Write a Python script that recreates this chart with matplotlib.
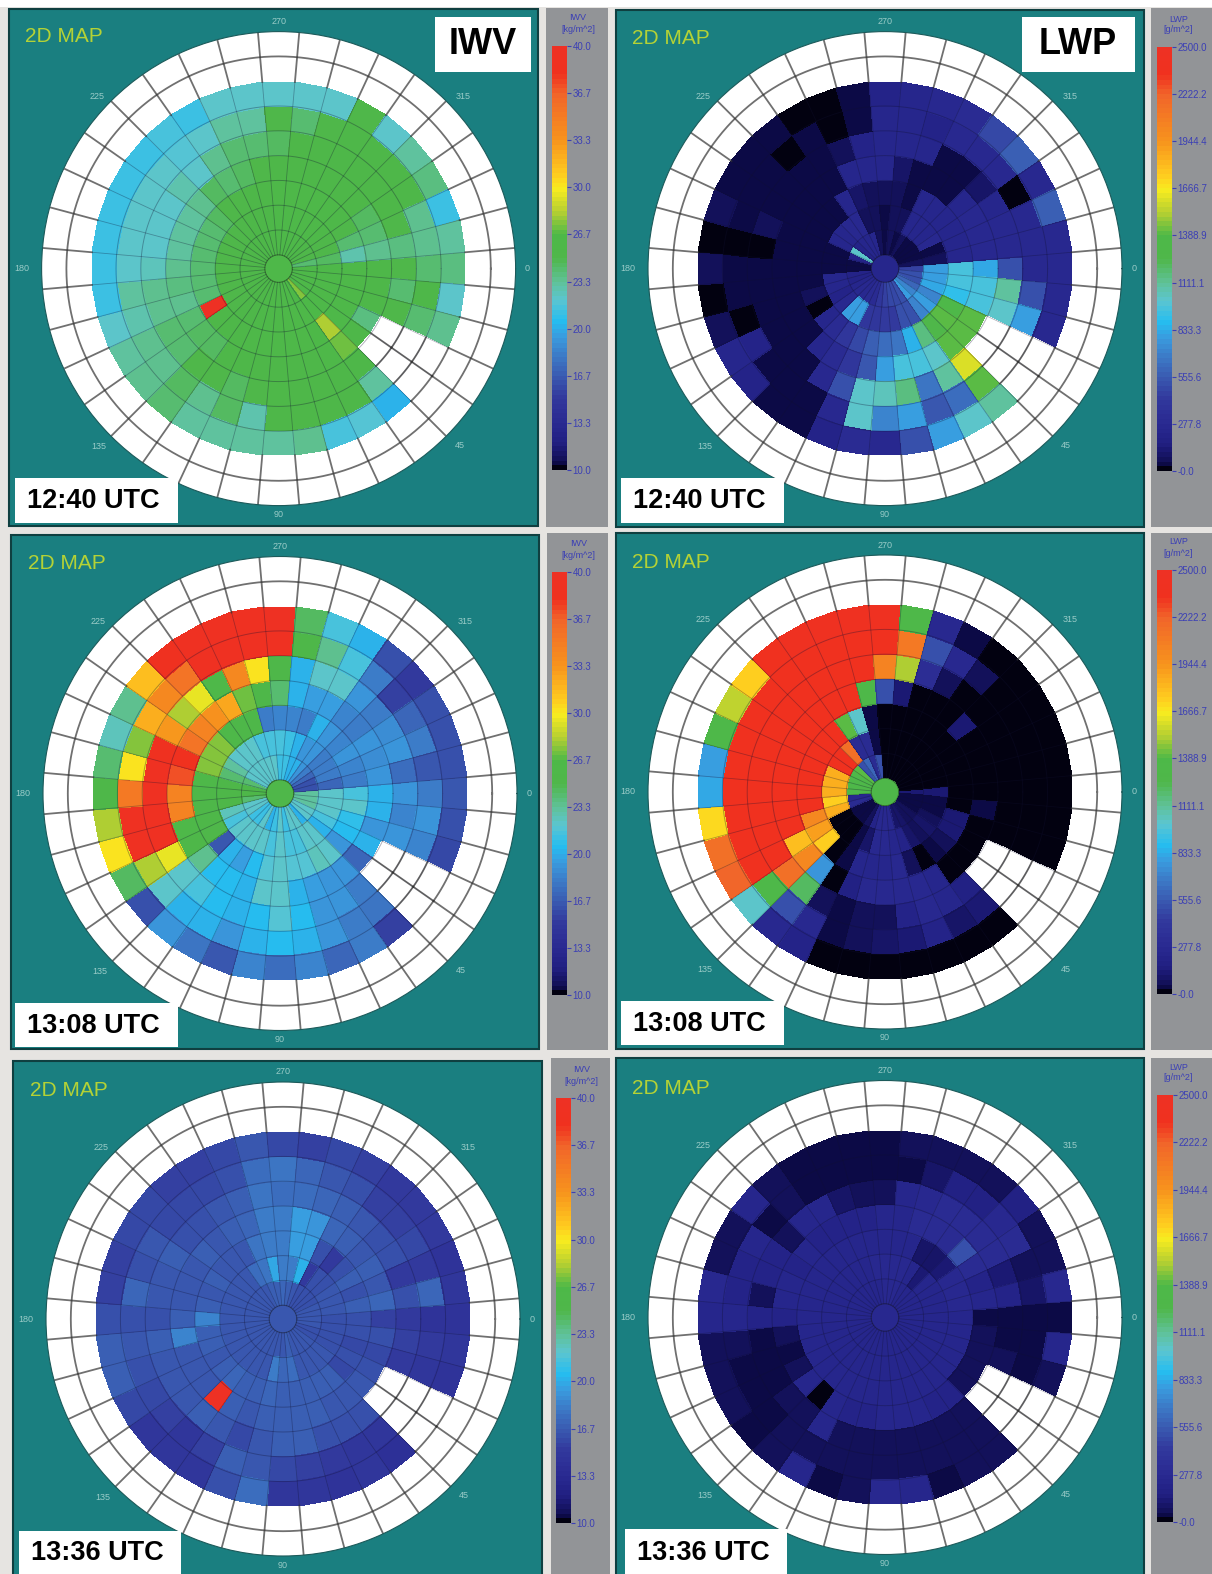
import numpy as np
import matplotlib
matplotlib.use("Agg")
import matplotlib.pyplot as plt
from matplotlib.colors import LinearSegmentedColormap
from matplotlib.patches import Rectangle

plt.rcParams['font.family'] = ['Liberation Sans', 'DejaVu Sans']

na = np.nan

iwv_ticks = ['10.0', '13.3', '16.7', '20.0', '23.3', '26.7', '30.0', '33.3', '36.7', '40.0']
lwp_ticks = ['-0.0', '277.8', '555.6', '833.3', '1111.1', '1388.9', '1666.7', '1944.4', '2222.2', '2500.0']
angle_ticks = [0, 45, 90, 135, 180, 225, 270, 315]
# where the azimuth labels sit, pixels from the centre of the circle
angle_label_dx = [249, 181, 0, -180, -257, -182, 0, 185]
angle_label_dy = [0, 177, 246, 178, 0, -172, -247, -172]

# rings go from the centre outwards, each one starts at 0 deg and runs clockwise in 10 deg steps
iwv_1240_center = 25.7
iwv_1240 = [
    [25.7, 25.7, 25.7, 26, 26, 27.5, 26.5, 26, 25.7, 25.7, 25.7, 25.7,
     25.5, 25.5, 25.5, 25.5, 25.5, 25.3, 25.3, 25.3, 25.3, 25.5, 25.5, 25.5,
     25.5, 25.5, 25.5, 25.7, 25.7, 25.7, 25.7, 25.7, 25.5, 25.3, 25, 24],
    [25.7, 25.7, 25.7, 25.7, 26, 26.5, 26, 25.7, 25.7, 25.7, 25.7, 25.7,
     25.5, 25.5, 25.3, 25.3, 25, 25, 25, 25, 25, 25, 25.3, 25.3,
     25.5, 25.5, 25.5, 25.7, 25.7, 25.7, 25.7, 26, 25.7, 25.3, 25, 24.5],
    [25.8, 25.7, 25.7, 25.7, 26, 28, 26.5, 26, 25.7, 25.7, 25.7, 25.7,
     25.5, 25.5, 25.5, 40, 24, 24, 24.3, 24.3, 24, 24, 24.5, 25,
     25.3, 25.5, 25.5, 25.7, 25.7, 25.7, 26, 26.2, 25.8, 25, 24, 22.8],
    [25.5, 25.5, 25.5, 23.8, 25.5, 27, 26, 25.5, 25.5, 25.5, 25.5, 25.5,
     25.5, 24.5, 24.5, 24.3, 23.5, 23.8, 23.5, 23.3, 23.3, 23.3, 23.5, 24.5,
     24.3, 24.5, 25, 25.5, 25.5, 25.5, 25.5, 25.5, 25.5, 24.5, 24, 23.5],
    [25.3, 24, 25, na, na, 25.5, 25.5, 25.5, 25.5, 26, 25, 24.5,
     25, 25, 24, 24, 23.5, 23.5, 22.5, 22.3, 22.3, 22.3, 22.8, 22,
     23.5, 24, 24, 24.5, 25.5, 25.5, 25.5, 25.5, 25.5, 25.5, 25.3, 23.8],
    [24, 25.5, 24, na, na, 23, 25.5, 25.5, 25.5, 25.5, 22.7, 24.5,
     23.5, 24.5, 23.5, 23.5, 22.8, 23.3, 22, 22, 22, 22, 22, 21.8,
     22, 23, 23, 25.3, 24, 25, 25.5, 25.5, 25.5, 25.5, 23.5, 23.5],
    [23.8, 22, 23.5, na, na, 20.3, 21.8, 21.5, 23.5, 23.2, 23, 23,
     23.2, 24, 23.5, 23.3, 22, 21, 21, 21, 21.3, 21, 21, 21.5,
     21.2, 22, 22, 22, 22, 22, 25, 22, 23, 23.8, 21, 23.3],
]

lwp_1240_center = 240
lwp_1240 = [
    [450, 500, 500, 600, 700, 800, 500, 480, 480, 450, 400, 280,
     280, 260, 250, 230, 220, 210, 50, 50, 220, 1000, 220, 230,
     230, 230, 60, 40, 60, 50, 70, 50, 50, 40, 50, 70],
    [800, 800, 830, 700, 800, 700, 500, 500, 420, 420, 400, 400,
     800, 800, 250, 220, 230, 230, 40, 40, 40, 230, 230, 250,
     250, 60, 60, 50, 60, 70, 230, 230, 230, 250, 50, 60],
    [950, 950, 900, 1350, 1400, 1250, 1150, 850, 650, 620, 560, 480,
     400, 300, 240, 0, 60, 30, 40, 30, 30, 50, 50, 50,
     230, 100, 60, 60, 70, 40, 230, 230, 240, 240, 240, 240],
    [820, 950, 950, 1400, 1400, 1400, 1000, 950, 950, 800, 550, 400,
     280, 230, 50, 40, 30, 30, 30, 30, 30, 30, 30, 40,
     40, 230, 230, 230, 100, 40, 40, 40, 230, 250, 250, 250],
    [500, 1100, 1000, na, na, 1600, 1100, 650, 1150, 1050, 1000, 500,
     250, 40, 30, 30, 30, 30, 40, 10, 60, 30, 40, 50,
     50, 60, 220, 240, 240, 230, 40, 40, 100, 230, 250, 250],
    [270, 520, 800, na, na, 1400, 620, 550, 800, 720, 1000, 270,
     40, 30, 50, 200, 20, 30, 50, 0, 50, 50, 50, 5,
     30, 5, 40, 230, 240, 220, 260, 260, 260, 10, 260, 250],
    [250, 250, 270, na, na, 1100, 1000, 800, 500, 260, 280, 200,
     50, 50, 220, 240, 60, 10, 70, 0, 70, 50, 50, 50,
     10, 0, 40, 220, 240, 260, 280, 480, 570, 250, 560, 250],
]

iwv_1308_center = 25.3
iwv_1308 = [
    [23, 23, 23, 22, 22, 20, 22, 22, 21, 22, 21, 20,
     22, 21, 21, 22, 22, 24, 25.5, 25.5, 24, 22, 22, 22,
     22, 22, 22, 21, 21, 20, 20, 19, 18, 17, 16, 16],
    [22, 22, 22, 21.5, 20, 22, 22, 21.5, 21.5, 22, 21.5, 22,
     22, 22, 22, 21.5, 22.5, 25.5, 25.5, 25.5, 24, 23.3, 22, 22,
     22, 21.5, 21.5, 21.5, 21, 20, 19, 19, 18, 18, 18, 17],
    [21.5, 22, 20.8, 20.5, 19, 22, 22.5, 21.8, 21.8, 22, 21.8, 20.5,
     19.5, 20, 16.5, 25, 25.5, 25.5, 25.5, 26, 27.5, 27.5, 27.5, 26,
     25.5, 25.5, 18, 18.5, 18.5, 18, 20, 19, 18.5, 19, 18.5, 18],
    [20, 20, 19, 20, 17.3, 19, 19, 19.5, 20, 22, 22, 20,
     20.5, 20.5, 23.5, 25.5, 26, 34.5, 34.5, 37, 38, 35.5, 34.5, 33.5,
     32.5, 27, 25.5, 24, 20, 19.5, 19.5, 18.5, 18, 19, 18.8, 19],
    [19, 18.5, 19.3, na, na, 18, 19, 19, 20.5, 21.8, 20.5, 20,
     20.5, 21.5, 22, 29.5, 39, 39, 39, 39, 38.5, 33, 28, 29.5,
     26, 34, 30, 25.5, 20, 22, 22, 19, 18, 18.8, 19, 17.5],
    [18, 19, 18.5, na, na, 17.8, 18, 19, 20.3, 20.5, 20, 19,
     20, 20, 22, 28, 39, 39, 35, 30, 27.5, 32, 34, 35.5,
     39, 39, 39, 39, 25.5, 23.5, 21.5, 18, 15.5, 17, 18, 16.5],
    [16.5, 16, 15.7, na, na, 15.5, 18, 17, 18.5, 17.5, 18.5, 16.5,
     17.8, 19, 16.3, 24.5, 30, 28, 25.5, 24, 22.5, 23.5, 31.5, 38.5,
     39, 39, 39, 39.5, 24.5, 21.5, 20, 16, 15, 16, 16.3, 16],
]

lwp_1308_center = 1300
lwp_1308 = [
    [130, 30, 30, 30, 60, 70, 100, 100, 260, 260, 260, 220,
     60, 40, 40, 40, 280, 270, 1350, 1350, 1350, 1350, 1400, 500,
     600, 300, 500, 0, 0, 0, 0, 0, 0, 0, 0, 0],
    [130, 40, 40, 70, 100, 80, 100, 220, 240, 250, 250, 100,
     40, 20, 0, 0, 1850, 1750, 1850, 1850, 1850, 2350, 2350, 2150,
     280, 280, 50, 0, 0, 0, 0, 0, 0, 0, 0, 0],
    [0, 10, 120, 130, 70, 30, 0, 80, 250, 240, 240, 230,
     30, 0, 1750, 1900, 2000, 2350, 2350, 2350, 2350, 2350, 2350, 2350,
     1400, 1000, 50, 0, 0, 0, 0, 0, 0, 0, 0, 0],
    [0, 30, 0, 0, 0, 0, 230, 270, 270, 270, 250, 180,
     20, 750, 2000, 1800, 2350, 2350, 2350, 2350, 2350, 2350, 2350, 2350,
     2350, 2350, 1350, 500, 130, 10, 0, 0, 130, 0, 0, 0],
    [0, 0, 0, na, na, 180, 230, 260, 200, 80, 70, 50,
     60, 1200, 2150, 2350, 2350, 2350, 2350, 2350, 2350, 2350, 2350, 2350,
     2350, 2350, 2350, 2050, 1500, 330, 60, 10, 0, 0, 0, 0],
    [0, 0, 0, na, na, 130, 100, 200, 120, 90, 60, 40,
     270, 500, 1350, 2350, 2350, 2350, 2350, 2350, 2350, 2350, 2350, 2350,
     2350, 2350, 2350, 2350, 2100, 500, 270, 80, 0, 0, 0, 0],
    [0, 0, 0, na, na, 0, 0, 0, 0, 0, 0, 0,
     200, 260, 1000, 2200, 2150, 1700, 830, 800, 1350, 1550, 1750, 2350,
     2400, 2400, 2400, 2400, 1350, 270, 30, 0, 0, 0, 0, 0],
]

iwv_1336_center = 16.5
iwv_1336 = [
    [16.5, 16.5, 16.3, 16.3, 16.5, 16.5, 16.5, 16.5, 16.7, 16.5, 16.5, 16.5,
     16.5, 16.5, 16.5, 16.5, 16.5, 16.5, 16.5, 16.5, 16.5, 16.5, 16.5, 16.5,
     16.5, 16.7, 16.8, 17, 16.8, 16.5, 16.3, 16.3, 16.3, 16.3, 16.5, 16.5],
    [16.3, 16.3, 16.3, 16.3, 16.5, 16.5, 16.5, 16.5, 17.5, 17, 18, 16.5,
     16.5, 16.5, 16.5, 16.5, 16.5, 16.5, 16.5, 16.5, 16.5, 16.5, 16.5, 16.5,
     17.5, 17.8, 19.8, 18, 18, 20, 15.3, 16, 16.3, 16.5, 16.5, 16.5],
    [16.3, 16.3, 15.8, 16, 15.8, 16.7, 16.7, 16.7, 16.8, 16.7, 17.2, 16.8,
     16.7, 17, 16.7, 16.5, 16.7, 16.7, 18.5, 16.7, 16.5, 16.7, 16.5, 16.5,
     16.5, 17.8, 18.2, 18, 19.5, 19.5, 16, 15.2, 16.3, 16.7, 16.3, 16.7],
    [15.5, 16, 15.8, 16, 16.5, 16.5, 16.5, 16.7, 16.8, 16.7, 16.7, 16.5,
     16.7, 40, 16.5, 16.5, 16.5, 18.5, 16.7, 16.5, 16.5, 16.5, 16.7, 16.5,
     16.7, 17, 18, 18, 19.5, 19, 17, 16.7, 16.5, 16.7, 16.5, 17.3],
    [15, 15.5, 15.3, na, na, 16, 16.3, 16, 16.7, 16.7, 16.5, 15.8,
     16.5, 16.7, 16.5, 16.5, 16.5, 16.8, 16.3, 16.5, 16.5, 16.7, 16.3, 16.3,
     16.5, 16.8, 17.8, 17.5, 17.5, 17, 16.7, 16.5, 16.3, 16, 15.3, 16],
    [14.5, 15, 14.7, na, na, 14.8, 14.8, 15, 15.5, 15.7, 16.5, 16.7,
     15.5, 14.8, 15.5, 15.8, 16, 16.5, 16.3, 17, 16, 16.5, 15.7, 15.7,
     15.7, 16, 17.5, 17.8, 17, 16.5, 16.3, 15.5, 15.5, 15.7, 15, 17],
    [14.5, 14.7, 14.5, na, na, 14, 14.8, 14.5, 14.8, 14.8, 17.5, 16.3,
     14.8, 14.8, 14.8, 15.8, 16.7, 16.7, 16, 15.5, 15.5, 15.7, 15.7, 15.5,
     15.5, 15.7, 16.5, 15.7, 15.5, 15.7, 15.5, 15, 15, 15.3, 14.5, 14.7],
]

lwp_1336_center = 270
lwp_1336 = [
    [240, 240, 240, 240, 240, 240, 240, 240, 240, 240, 240, 240,
     240, 240, 240, 240, 240, 240, 240, 240, 240, 240, 240, 240,
     240, 240, 240, 250, 250, 250, 240, 240, 240, 240, 240, 240],
    [230, 230, 230, 230, 230, 230, 230, 230, 230, 230, 230, 230,
     230, 230, 230, 230, 230, 230, 230, 230, 230, 230, 230, 230,
     230, 240, 250, 260, 260, 260, 230, 120, 230, 230, 230, 230],
    [230, 240, 230, 230, 230, 230, 230, 230, 230, 230, 230, 230,
     230, 230, 230, 230, 230, 230, 230, 230, 230, 230, 230, 230,
     230, 230, 230, 240, 240, 240, 110, 110, 120, 250, 260, 270],
    [50, 60, 60, 70, 70, 220, 220, 230, 230, 230, 220, 220,
     230, 0, 230, 60, 40, 60, 220, 230, 230, 220, 230, 220,
     220, 210, 220, 230, 230, 280, 280, 280, 520, 280, 220, 240],
    [50, 50, 60, na, na, 70, 60, 60, 60, 60, 60, 60,
     230, 60, 60, 50, 40, 40, 200, 60, 200, 200, 60, 230,
     230, 100, 60, 60, 230, 270, 280, 280, 290, 290, 130, 200],
    [50, 50, 50, na, na, 60, 60, 60, 60, 60, 60, 60,
     60, 70, 50, 50, 40, 60, 230, 220, 220, 230, 50, 60,
     50, 50, 50, 50, 50, 100, 180, 180, 270, 280, 60, 100],
    [50, 230, 70, na, na, 60, 60, 50, 240, 250, 60, 40,
     230, 60, 50, 60, 60, 60, 230, 270, 60, 60, 230, 60,
     50, 50, 50, 50, 60, 60, 60, 60, 190, 70, 80, 270],
]

color_stops = [
    (0.00, '#020110'), (0.008, '#0a0840'), (0.025, '#14125e'), (0.06, '#211f82'),
    (0.11, '#2a2a92'), (0.17, '#32399d'), (0.22, '#3a5cb2'), (0.27, '#3c7cc8'),
    (0.31, '#3a9ade'), (0.35, '#25bdf0'), (0.40, '#5cc5d0'), (0.445, '#5fc195'),
    (0.50, '#4fb74a'), (0.555, '#4db848'), (0.61, '#b5cf32'), (0.665, '#f8ec1f'),
    (0.70, '#ffcb1f'), (0.78, '#f7941d'), (0.89, '#f1652a'), (0.94, '#f0311f'),
    (1.00, '#ee3124'),
]
cmap = LinearSegmentedColormap.from_list('mwr', color_stops, N=90)
cmap.set_bad('white')

W, H = 1212, 1574
r_edges = 14 + 25.2 * np.arange(10)
theta_edges = np.deg2rad(np.arange(-5, 356, 10))

TEAL = '#1a7f80'
GREY = '#929497'
BLUE = '#3b3fb5'
RIM = '#333333'

fig = plt.figure(figsize=(W / 100, H / 100), dpi=100, facecolor='#e6e4e1')

bg = fig.add_axes([0, 0, 1, 1], zorder=0)
bg.set_xlim(0, W)
bg.set_ylim(H, 0)
bg.axis('off')
top = fig.add_axes([0, 0, 1, 1], zorder=5)
top.set_xlim(0, W)
top.set_ylim(H, 0)
top.axis('off')
top.patch.set_alpha(0)

bg.add_patch(Rectangle((0, 0), W, 7, fc='white', ec='none'))


def px_axes(x0, y0, x1, y1, **kw):
    return fig.add_axes([x0 / W, 1 - y1 / H, (x1 - x0) / W, (y1 - y0) / H], **kw)


def draw_panel(rings, center, vmin, vmax, ticks, name, unit, teal, grey, c, bar, map_xy, time, time_box):
    bg.add_patch(Rectangle((teal[0], teal[1]), teal[2] - teal[0], teal[3] - teal[1],
                           fc=TEAL, ec='#0f3f40', lw=1.5))
    bg.add_patch(Rectangle((grey[0], grey[1]), grey[2] - grey[0], grey[3] - grey[1], fc=GREY, ec='none'))

    R = 237
    ax = px_axes(c[0] - R, c[1] - R, c[0] + R, c[1] + R, projection='polar', zorder=2)
    ax.set_theta_zero_location('E')
    ax.set_theta_direction(-1)
    ax.set_facecolor('white')
    arr = np.array(rings, dtype=float)
    vals = np.ma.masked_invalid(arr)
    ax.pcolormesh(theta_edges, r_edges[:8], vals, cmap=cmap, vmin=vmin, vmax=vmax, shading='flat', linewidth=0)
    ax.pcolormesh(theta_edges, [0, r_edges[0]], np.full((1, 36), center), cmap=cmap, vmin=vmin, vmax=vmax,
                  shading='flat')

    # soft lines over the cells
    th = np.linspace(0, 2 * np.pi, 361)
    for r in r_edges[1:7]:
        ax.plot(th, np.full_like(th, r), color='#101030', lw=0.7, alpha=0.32)
    for t in theta_edges[:-1]:
        ax.plot([t, t], [r_edges[0], r_edges[7]], color='#101030', lw=0.6, alpha=0.32)
    ax.plot(th, np.full_like(th, r_edges[0]), color='#101010', lw=0.8, alpha=0.4)

    # stronger lines on the white rim and in the gap
    ax.plot(th, np.full_like(th, r_edges[8]), color=RIM, lw=1.3, alpha=0.7)
    for t in theta_edges[:-1]:
        ax.plot([t, t], [r_edges[7], r_edges[-1]], color=RIM, lw=1.3, alpha=0.7)
    for k, j in zip(*np.where(np.isnan(arr))):
        t0, t1 = theta_edges[j], theta_edges[j + 1]
        ax.plot(np.linspace(t0, t1, 8), np.full(8, r_edges[k + 1]), color=RIM, lw=1.3, alpha=0.7)
        if j > 0 and np.isnan(arr[k, j - 1]):
            ax.plot([t0, t0], [r_edges[k], r_edges[k + 1]], color=RIM, lw=1.3, alpha=0.7)

    ax.set_rlim(0, r_edges[-1])
    ax.set_yticks([])
    ax.set_xticks(np.deg2rad(angle_ticks))
    ax.set_xticklabels([])
    ax.grid(False)
    ax.tick_params(axis='x', direction='out', length=4, width=0.7, color='#a5d3cf')
    ax.spines['polar'].set_color('#1c5a5a')
    ax.spines['polar'].set_linewidth(0.8)

    for a, dx, dy in zip(angle_ticks, angle_label_dx, angle_label_dy):
        top.text(c[0] + dx, c[1] + dy, str(a), color='#9accc8', fontsize=6.5, ha='center', va='center')

    cb = px_axes(bar[0], bar[1], bar[2], bar[3], zorder=2)
    cb.pcolormesh([0, 1], np.linspace(vmin, vmax, 91), np.linspace(vmin, vmax, 90).reshape(-1, 1),
                  cmap=cmap, vmin=vmin, vmax=vmax, shading='flat')
    cb.set_xticks([])
    cb.yaxis.tick_right()
    cb.set_yticks(np.linspace(vmin, vmax, 10))
    cb.set_yticklabels(ticks)
    cb.tick_params(axis='y', length=3, width=0.8, color=BLUE, labelcolor=BLUE, labelsize=7, pad=1)
    for s in cb.spines.values():
        s.set_visible(False)

    mid = (grey[0] + grey[2]) / 2 + (1 if name == 'IWV' else -3)
    top.text(mid, bar[1] - 28, name, color=BLUE, fontsize=6.5, ha='center', va='center')
    top.text(mid, bar[1] - 17, unit, color=BLUE, fontsize=6.5, ha='center', va='center')
    top.text(map_xy[0], map_xy[1], '2D MAP', color='#b4d235', fontsize=15, ha='center', va='center')

    top.add_patch(Rectangle((time_box[0], time_box[1]), time_box[2] - time_box[0], time_box[3] - time_box[1],
                            fc='white', ec='none'))
    top.text((time_box[0] + time_box[2]) / 2 - 3, (time_box[1] + time_box[3]) / 2 + 1, time, color='black',
             fontsize=19.5, fontweight='bold', ha='center', va='center')


iwv_unit = '[kg/m^2]'
lwp_unit = '[g/m^2]'

draw_panel(iwv_1240, iwv_1240_center, 10, 40, iwv_ticks, 'IWV', iwv_unit,
           (9, 9, 538, 526), (546, 8, 608, 527), (278.6, 268.6), (552, 46, 567, 470),
           (64, 37), '12:40 UTC', (15, 478, 178, 523))
draw_panel(lwp_1240, lwp_1240_center, 0, 2500, lwp_ticks, 'LWP', lwp_unit,
           (616, 10, 1144, 527), (1151, 8, 1212, 527), (885, 268.6), (1157, 47, 1172, 471),
           (671, 38), '12:40 UTC', (621, 478, 784, 523))
draw_panel(iwv_1308, iwv_1308_center, 10, 40, iwv_ticks, 'IWV', iwv_unit,
           (11, 535, 539, 1049), (547, 533, 608, 1050), (280, 793.5), (552, 572, 567, 995),
           (67, 563.5), '13:08 UTC', (15, 1003, 178, 1047))
draw_panel(lwp_1308, lwp_1308_center, 0, 2500, lwp_ticks, 'LWP', lwp_unit,
           (616, 533, 1144, 1049), (1151, 533, 1212, 1050), (885, 792), (1157, 570, 1172, 994),
           (671, 562), '13:08 UTC', (621, 1001, 784, 1045))
draw_panel(iwv_1336, iwv_1336_center, 10, 40, iwv_ticks, 'IWV', iwv_unit,
           (13, 1061, 542, 1580), (551, 1058, 610, 1574), (283, 1319), (556, 1098, 571, 1523),
           (68.5, 1090), '13:36 UTC', (19, 1531, 181, 1574))
draw_panel(lwp_1336, lwp_1336_center, 0, 2500, lwp_ticks, 'LWP', lwp_unit,
           (616, 1058, 1144, 1580), (1151, 1058, 1212, 1574), (885, 1317.5), (1157, 1095, 1173, 1522),
           (671, 1088), '13:36 UTC', (625, 1529, 787, 1574))

# the two column headers
top.add_patch(Rectangle((435, 17), 96, 55, fc='white', ec='none'))
top.text(483, 45, 'IWV', color='black', fontsize=26, fontweight='bold', ha='center', va='center')
top.add_patch(Rectangle((1022, 17), 113, 55, fc='white', ec='none'))
top.text(1078, 45, 'LWP', color='black', fontsize=26, fontweight='bold', ha='center', va='center')

fig.savefig('out.png', dpi=100, facecolor=fig.get_facecolor())
